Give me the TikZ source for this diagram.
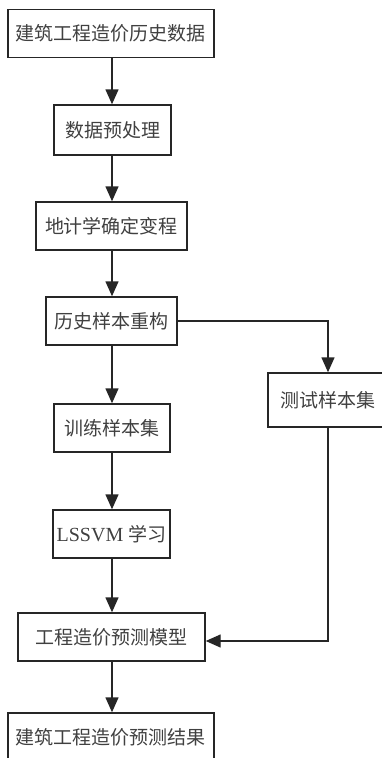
\documentclass[tikz,border=0pt]{standalone}
\usepackage{fontspec}
\setmainfont{Liberation Serif}
\newfontfamily\cjk{Noto Sans CJK SC}[Scale=1.0]
\usetikzlibrary{arrows.meta}
\tikzset{
  box/.style={draw=black!85, line width=1.4pt, minimum height=48pt, inner sep=0pt, font=\fontsize{19}{19}\selectfont\cjk, text=black!75},
  arr/.style={draw=black!85, line width=1.4pt, -{Triangle[length=15pt,width=13pt]}},
  ln/.style={draw=black!85, line width=1.4pt}
}
\begin{document}
\begin{tikzpicture}[x=1pt,y=-1pt]
\useasboundingbox (0,0) rectangle (382,758);
\clip (0,0) rectangle (382,758);
\node[box, minimum width=206pt] (b1) at (111,33.5) {建筑工程造价历史数据};
\node[box, minimum width=117pt, minimum height=50pt] (b2) at (112.5,130) {数据预处理};
\node[box, minimum width=151pt] (b3) at (111.5,226) {地计学确定变程};
\node[box, minimum width=131pt] (b4) at (111.5,321) {历史样本重构};
\node[box, minimum width=116pt] (b5) at (112,428) {训练样本集};
\node[box, minimum width=117pt] (b6) at (111.5,534) {\fontspec{Liberation Serif}\fontsize{20}{20}\selectfont LSSVM\ \cjk\fontsize{19}{19}\selectfont 学习};
\node[box, minimum width=187pt] (b7) at (111.5,637) {工程造价预测模型};
\node[box, minimum width=206pt] (b8) at (111,737) {建筑工程造价预测结果};
\node[box, minimum width=120pt, minimum height=54pt] (t) at (328,400) {\makebox[100pt]{测试样本集}};
\draw[arr] (b1.south -| 112,0) -- (b2.north -| 112,0);
\draw[arr] (b2.south -| 112,0) -- (b3.north -| 112,0);
\draw[arr] (b3.south -| 112,0) -- (b4.north -| 112,0);
\draw[arr] (b4.south -| 112,0) -- (b5.north -| 112,0);
\draw[arr] (b5.south -| 112,0) -- (b6.north -| 112,0);
\draw[arr] (b6.south -| 112,0) -- (b7.north -| 112,0);
\draw[arr] (b7.south -| 112,0) -- (b8.north -| 112,0);
\draw[arr] (b4.east) -| (t.north);
\draw[arr] (t.south) |- ([yshift=-4pt]b7.east);
\end{tikzpicture}
\end{document}
